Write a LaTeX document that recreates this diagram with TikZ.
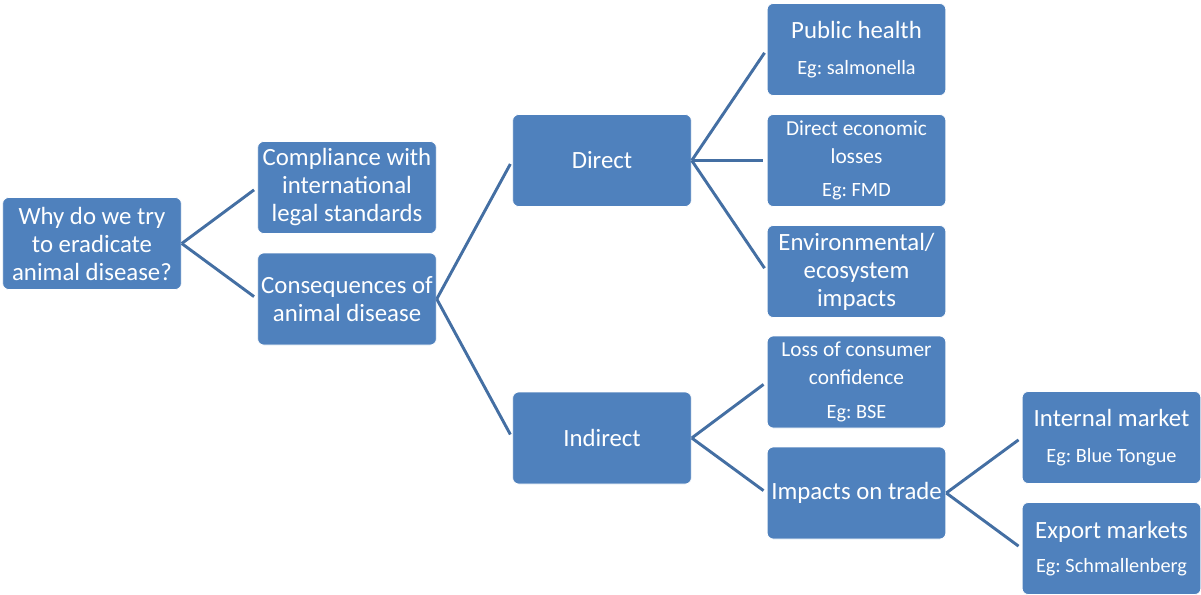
\documentclass[tikz,border=0pt]{standalone}
\usepackage{fontspec}
\setmainfont{Carlito}

\definecolor{boxblue}{HTML}{4F81BD}
\definecolor{lineblue}{HTML}{446FA3}

\tikzset{
    box/.style={rectangle, rounded corners=4.5pt, fill=boxblue, draw=white, line width=0.6pt,
        text=white, minimum width=134pt, minimum height=69pt, inner sep=0pt, align=center,
        font=\fontsize{18.6}{21}\selectfont\frenchspacing},
    link/.style={draw=lineblue, line width=2.2pt, shorten >=3pt}
}
\newcommand{\egline}[1]{{\fontsize{15.2}{18}\selectfont #1}}
\newcommand{\midtext}[1]{{\fontsize{16}{19}\selectfont #1}}

\begin{document}
\begin{tikzpicture}[x=0.75pt, y=-0.75pt]

    % Fix the frame to the size of the page
    \useasboundingbox (0,0) rectangle (1201,595);

    % First two levels
    \node[box] (root) at (92, 243.5) {Why do we try\\to eradicate\\animal disease?};
    \node[box] (compliance) at (347, 187.5) {Compliance with\\international\\legal standards};
    \node[box] (conseq) at (347, 299) {Consequences of\\animal disease};

    % Direct and indirect consequences
    \node[box] (direct) at (602, 160.5) {Direct};
    \node[box] (indirect) at (602, 438) {Indirect};

    % Kinds of direct consequence
    \node[box] (health) at (856.5, 49.5) {Public health\\[6pt]\egline{Eg: salmonella}};
    \node[box] (losses) at (856.5, 160.5) {\midtext{Direct economic}\\\midtext{losses}\\[4pt]\egline{Eg: FMD}};
    \node[box] (environ) at (856.5, 271.5) {Environmental/\\ecosystem\\impacts};

    % Kinds of indirect consequence
    \node[box] (confidence) at (856.5, 382) {\midtext{Loss of consumer}\\\midtext{confidence}\\[5pt]\egline{Eg: BSE}};
    \node[box] (trade) at (856.5, 493) {Impacts on trade};

    % Trade markets
    \node[box] (internal) at (1111.5, 437.5) {Internal market\\[6pt]\egline{Eg: Blue Tongue}};
    \node[box] (export) at (1111.5, 548.5) {Export markets\\[5pt]\egline{Eg: Schmallenberg}};

    % Draw the connectors
    \draw[link] (root.east) -- (compliance.west);
    \draw[link] (root.east) -- (conseq.west);
    \draw[link] (conseq.east) -- (direct.west);
    \draw[link] (conseq.east) -- (indirect.west);
    \draw[link] (direct.east) -- (health.west);
    \draw[link] (direct.east) -- (losses.west);
    \draw[link] (direct.east) -- (environ.west);
    \draw[link] (indirect.east) -- (confidence.west);
    \draw[link] (indirect.east) -- (trade.west);
    \draw[link] (trade.east) -- (internal.west);
    \draw[link] (trade.east) -- (export.west);

\end{tikzpicture}
\end{document}
